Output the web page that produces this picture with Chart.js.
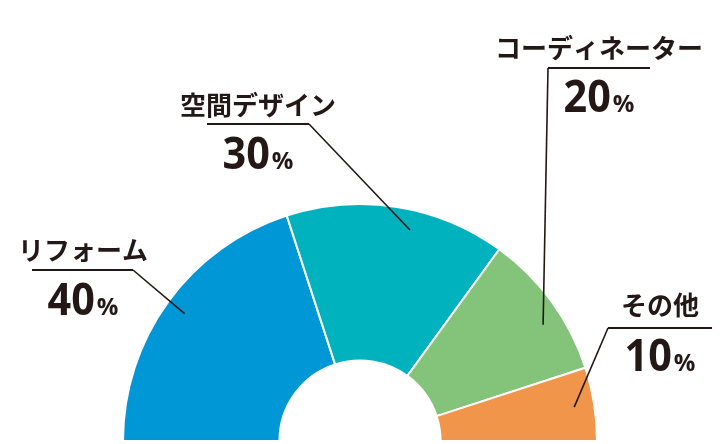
<!DOCTYPE html>
<html lang="ja">
<head>
<meta charset="utf-8">
<title>部門別構成比</title>
<script src="https://cdn.jsdelivr.net/npm/chart.js@4.4.1/dist/chart.umd.min.js"></script>
<style>
  html, body { margin: 0; padding: 0; background: #ffffff; }
  #wrap { width: 720px; height: 444px; position: relative; }
</style>
</head>
<body>
<div id="wrap"><canvas id="chart"></canvas></div>
<script>
// Share of each field (percent)
const categories = ['リフォーム', '空間デザイン', 'コーディネーター', 'その他'];
const shares = [40, 30, 20, 10];
const sliceColors = ['#0097d7', '#00b2bd', '#84c47a', '#f0954a'];

// Callout placement: group centre x, name line y, rule y and span, number baseline,
// which end of the rule the leader leaves from, and where along the slice it lands.
const calloutLayout = [
  { cx: 83,  nameY: 250, ruleY: 270, ruleX0: 32,  ruleX1: 133, from: 'right', numY: 315, along: 0.5 },
  { cx: 258, nameY: 105, ruleY: 124, ruleX0: 207, ruleX1: 309, from: 'right', numY: 169, along: 0.58 },
  { cx: 599, nameY: 48,  ruleY: 68,  ruleX0: 548, ruleX1: 650, from: 'left',  numY: 112, along: 0.6 },
  { cx: 660, nameY: 305, ruleY: 328, ruleX0: 608, ruleX1: 712, from: 'left',  numY: 371, along: 0.5 }
];

const INK = '#231815';

const calloutPlugin = {
  id: 'callouts',
  afterDatasetsDraw(chart) {
    const ctx = chart.ctx;
    const arcs = chart.getDatasetMeta(0).data;
    ctx.save();
    arcs.forEach((arc, i) => {
      const lay = calloutLayout[i];
      const p = arc.getProps(['x', 'y', 'startAngle', 'endAngle', 'outerRadius'], true);
      const ang = p.startAngle + (p.endAngle - p.startAngle) * lay.along;
      const r = p.outerRadius * 0.915;
      const ex = p.x + Math.cos(ang) * r;
      const ey = p.y + Math.sin(ang) * r;
      const sx = lay.from === 'right' ? lay.ruleX1 : lay.ruleX0;

      // rule under the name and the leader into the slice
      ctx.strokeStyle = INK;
      ctx.lineCap = 'butt';
      ctx.lineJoin = 'miter';
      ctx.lineWidth = 1.8;
      ctx.beginPath();
      ctx.moveTo(lay.ruleX0, lay.ruleY);
      ctx.lineTo(lay.ruleX1, lay.ruleY);
      ctx.stroke();
      ctx.lineWidth = 1.6;
      ctx.beginPath();
      ctx.moveTo(sx, lay.ruleY);
      ctx.lineTo(ex, ey);
      ctx.stroke();

      // category name
      ctx.fillStyle = INK;
      ctx.font = 'bold 26px "Noto Sans CJK JP"';
      ctx.textAlign = 'center';
      ctx.textBaseline = 'middle';
      ctx.fillText(categories[i], lay.cx, lay.nameY);

      // value with a small percent sign
      const num = String(shares[i]);
      const squeeze = 0.92;
      ctx.textBaseline = 'alphabetic';
      ctx.textAlign = 'left';
      ctx.font = 'bold 45px "Open Sans"';
      const nw = ctx.measureText(num).width * squeeze;
      ctx.font = 'bold 24px "Open Sans"';
      const pw = ctx.measureText('%').width;
      const gap = 2;
      const x0 = lay.cx - (nw + gap + pw) / 2;
      ctx.save();
      ctx.translate(x0, lay.numY);
      ctx.scale(squeeze, 1);
      ctx.font = 'bold 45px "Open Sans"';
      ctx.fillText(num, 0, 0);
      ctx.restore();
      ctx.font = 'bold 24px "Open Sans"';
      ctx.fillText('%', x0 + nw + gap, lay.numY);
    });
    ctx.restore();
  }
};

new Chart(document.getElementById('chart'), {
  type: 'doughnut',
  data: {
    labels: categories,
    datasets: [{
      data: shares,
      backgroundColor: sliceColors,
      borderColor: '#ffffff',
      borderWidth: 2,
      hoverOffset: 0
    }]
  },
  options: {
    responsive: true,
    maintainAspectRatio: false,
    animation: false,
    rotation: -90,
    circumference: 180,
    cutout: '34%',
    layout: { padding: { top: 203, bottom: 2, left: 0, right: 0 } },
    plugins: {
      legend: { display: false },
      tooltip: { enabled: false }
    }
  },
  plugins: [calloutPlugin]
});
</script>
</body>
</html>
